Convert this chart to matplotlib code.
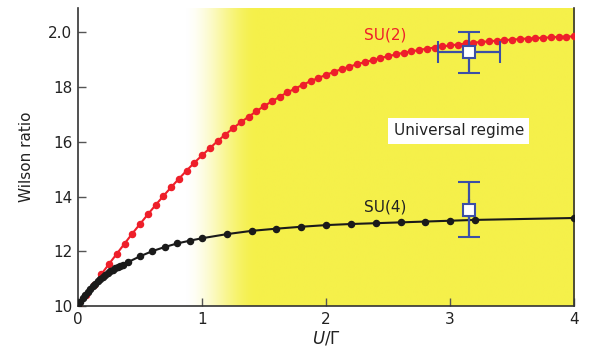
import numpy as np
import matplotlib
matplotlib.use("Agg")
import matplotlib.pyplot as plt
from matplotlib.colors import LinearSegmentedColormap

# SU(2) Wilson ratio, sampled every 1/16 in U/Gamma
su2_u = [k * 0.0625 for k in range(65)]
su2_r = [1.000, 1.039, 1.077, 1.116, 1.154, 1.191, 1.228, 1.265, 1.300, 1.335,
         1.369, 1.402, 1.434, 1.465, 1.495, 1.524, 1.551, 1.577, 1.603, 1.627,
         1.650, 1.672, 1.692, 1.712, 1.731, 1.748, 1.765, 1.781, 1.795, 1.809,
         1.822, 1.834, 1.845, 1.856, 1.866, 1.875, 1.884, 1.892, 1.899, 1.907,
         1.913, 1.920, 1.926, 1.931, 1.936, 1.941, 1.945, 1.949, 1.953, 1.956,
         1.960, 1.963, 1.965, 1.968, 1.970, 1.972, 1.974, 1.976, 1.978, 1.979,
         1.981, 1.982, 1.984, 1.985, 1.986]

# SU(4) Wilson ratio
su4_u = [0.00, 0.02, 0.04, 0.06, 0.08, 0.10, 0.12, 0.14, 0.16, 0.18,
         0.20, 0.22, 0.24, 0.26, 0.28, 0.30, 0.32, 0.34, 0.36,
         0.4, 0.5, 0.6, 0.7, 0.8, 0.9, 1.0,
         1.2, 1.4, 1.6, 1.8, 2.0, 2.2, 2.4, 2.6, 2.8, 3.0, 3.2, 4.0]
su4_r = [1.000, 1.015, 1.029, 1.041, 1.053, 1.064, 1.073, 1.082, 1.091, 1.099,
         1.107, 1.114, 1.121, 1.127, 1.133, 1.138, 1.143, 1.147, 1.151,
         1.160, 1.182, 1.201, 1.216, 1.229, 1.239, 1.248,
         1.263, 1.275, 1.283, 1.290, 1.296, 1.300, 1.303, 1.306, 1.309, 1.312,
         1.315, 1.322]

# Experimental points with error bars
exp_u = [3.15, 3.15]
exp_r = [1.927, 1.352]
exp_uerr = [0.25, 0.0]
exp_rerr = [0.075, 0.10]

x_ticks = [0, 1, 2, 3, 4]
y_ticks = [1.0, 1.2, 1.4, 1.6, 1.8, 2.0]
y_ticklabels = ["10", "12", "14", "16", "18", "2.0"]

red = "#EE1F2A"
blue = "#3C4FA6"
yellow = "#F5F04A"
ink = "#222222"

fig = plt.figure(figsize=(6.0, 3.58), dpi=100)
ax = fig.add_axes([0.13, 0.145, 0.827, 0.833])

xmin, xmax, ymin, ymax = 0.0, 4.0, 1.0, 2.09

# Background: white fading smoothly into yellow across the crossover region
cmap = LinearSegmentedColormap.from_list("wy", ["white", yellow])
xs = np.linspace(xmin, xmax, 800)
t = np.clip((xs - 0.85) / (1.45 - 0.85), 0, 1)
grad = t * t * (3 - 2 * t)
ax.imshow(grad[np.newaxis, :], extent=[xmin, xmax, ymin, ymax], aspect="auto",
          cmap=cmap, vmin=0, vmax=1, zorder=0, interpolation="bilinear")

ax.plot(su2_u, su2_r, "-o", color=red, lw=1.5, ms=4.4, zorder=3)
ax.plot(su4_u, su4_r, "-o", color="#1a1a1a", lw=1.5, ms=4.4, zorder=3)

ax.errorbar(exp_u, exp_r, xerr=exp_uerr, yerr=exp_rerr, fmt="s", ms=8,
            mfc="white", mec=blue, mew=1.5, ecolor=blue, elinewidth=1.6,
            capsize=8, capthick=1.6, zorder=5)

ax.text(2.48, 1.99, "SU(2)", color=red, fontsize=11, ha="center", va="center")
ax.text(2.48, 1.363, "SU(4)", color=ink, fontsize=11, ha="center", va="center")
ax.text(3.07, 1.641, "Universal regime", color=ink, fontsize=11,
        ha="center", va="center",
        bbox=dict(boxstyle="square,pad=0.35", fc="white", ec="none"))

ax.set_xlim(xmin, xmax)
ax.set_ylim(ymin, ymax)
ax.set_xticks(x_ticks)
ax.set_yticks(y_ticks)
ax.set_yticklabels(y_ticklabels)
ax.tick_params(direction="in", length=6, width=1, labelsize=11,
               colors="#555555", labelcolor=ink, pad=4)
ax.set_xlabel(r"$U/\Gamma$", fontsize=12, color=ink, labelpad=2)
ax.set_ylabel("Wilson ratio", fontsize=11, color=ink, labelpad=10)

for side in ("left", "bottom", "right"):
    ax.spines[side].set_color("#333333")
    ax.spines[side].set_linewidth(1.2)
ax.spines["top"].set_visible(False)

fig.savefig("out.png", dpi=100)
